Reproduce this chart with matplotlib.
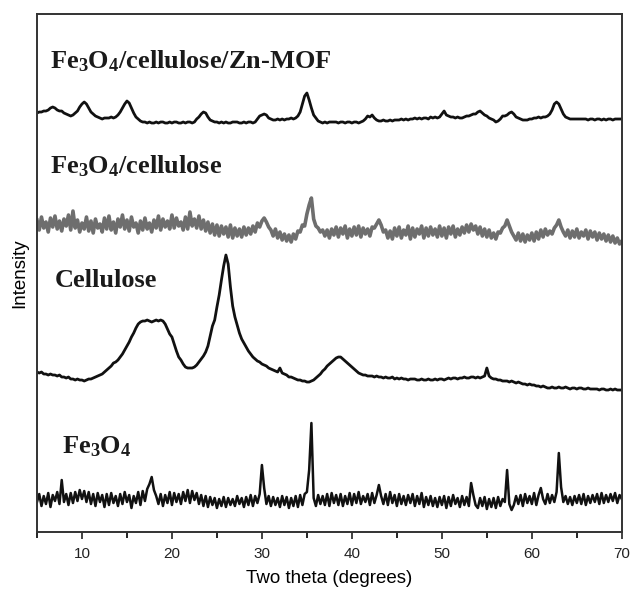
import numpy as np
import matplotlib
matplotlib.use("Agg")
import matplotlib.pyplot as plt

# XRD patterns, stacked (a.u.), sampled every 0.25 degree from 5 to 70
two_theta = 5 + 0.25 * np.arange(261)

zn_mof = [
    419, 420, 420, 421, 421, 422, 424, 425, 424, 422, 421, 421, 419, 418, 417, 416,
    417, 419, 421, 425, 428, 430, 428, 424, 420, 418, 416, 415, 414, 413, 414, 414,
    414, 415, 414, 415, 417, 420, 424, 428, 431, 429, 424, 419, 415, 413, 411, 410,
    410, 409, 410, 409, 409, 410, 409, 410, 410, 409, 409, 410, 409, 410, 410, 409,
    409, 410, 409, 410, 410, 409, 410, 413, 415, 418, 420, 419, 415, 412, 411, 410,
    410, 409, 410, 409, 410, 409, 409, 410, 410, 410, 409, 409, 410, 409, 410, 410,
    409, 410, 413, 416, 417, 418, 417, 414, 413, 412, 412, 413, 412, 413, 412, 413,
    413, 414, 413, 414, 416, 420, 428, 436, 439, 432, 424, 417, 414, 411, 410, 409,
    410, 409, 410, 410, 410, 410, 409, 410, 410, 409, 410, 410, 409, 410, 410, 409,
    410, 411, 413, 416, 415, 417, 414, 412, 411, 411, 412, 411, 411, 412, 411, 412,
    412, 412, 413, 412, 413, 412, 413, 413, 414, 413, 414, 413, 414, 414, 413, 415,
    414, 415, 414, 415, 418, 421, 417, 416, 415, 415, 414, 415, 414, 414, 415, 416,
    416, 417, 418, 418, 420, 421, 419, 417, 416, 414, 413, 412, 410, 411, 413, 416,
    416, 417, 419, 420, 418, 415, 414, 413, 412, 412, 412, 413, 413, 414, 414, 415,
    414, 415, 415, 416, 418, 422, 428, 430, 428, 423, 418, 415, 414, 413, 413, 413,
    413, 413, 413, 413, 413, 412, 413, 413, 412, 413, 413, 412, 413, 412, 413, 413,
    412, 413, 413, 413, 413,
]

fe3o4_cellulose = [
    312, 302, 315, 304, 310, 300, 314, 305, 316, 303, 311, 301, 313, 306, 317, 302,
    321, 304, 312, 300, 309, 303, 315, 301, 311, 299, 313, 304, 308, 300, 314, 303,
    316, 302, 310, 299, 313, 305, 317, 303, 312, 301, 315, 305, 309, 299, 311, 302,
    314, 303, 309, 300, 312, 304, 316, 302, 313, 305, 311, 303, 317, 304, 314, 306,
    310, 302, 315, 303, 320, 306, 313, 304, 316, 303, 312, 301, 310, 299, 308, 297,
    307, 296, 306, 298, 305, 295, 307, 294, 304, 296, 303, 295, 305, 297, 304, 298,
    306, 300, 309, 305, 311, 314, 310, 305, 302, 296, 303, 294, 300, 292, 298, 291,
    297, 290, 298, 293, 301, 300, 307, 306, 318, 327, 334, 313, 306, 304, 300, 302,
    296, 302, 294, 303, 297, 305, 295, 304, 298, 306, 294, 303, 296, 305, 297, 306,
    295, 304, 298, 303, 296, 305, 304, 308, 312, 307, 300, 302, 294, 301, 293, 304,
    296, 305, 294, 302, 297, 306, 293, 304, 295, 303, 298, 306, 294, 304, 296, 305,
    297, 303, 295, 306, 296, 304, 294, 305, 298, 306, 295, 303, 297, 305, 299, 307,
    300, 308, 302, 306, 298, 305, 296, 303, 295, 302, 294, 299, 293, 300, 299, 304,
    306, 312, 306, 300, 296, 292, 299, 291, 298, 290, 297, 292, 299, 291, 300, 293,
    302, 295, 303, 297, 301, 298, 304, 307, 312, 305, 300, 296, 302, 294, 301, 295,
    303, 294, 300, 296, 302, 293, 301, 295, 300, 292, 299, 293, 298, 291, 297, 290,
    296, 289, 294, 288, 291,
]

cellulose = [
    160, 159, 160, 158, 158, 157, 158, 157, 157, 156, 157, 155, 155, 154, 155, 153,
    153, 152, 153, 152, 152, 151, 152, 153, 153, 154, 155, 156, 157, 158, 160, 162,
    164, 166, 169, 170, 172, 175, 178, 182, 186, 190, 195, 199, 204, 208, 210, 211,
    211, 212, 211, 210, 211, 212, 211, 212, 211, 208, 203, 198, 195, 188, 181, 175,
    172, 168, 165, 164, 164, 164, 165, 167, 170, 173, 176, 180, 186, 196, 206, 212,
    225, 237, 252, 266, 277, 268, 245, 226, 215, 207, 199, 193, 189, 185, 181, 178,
    175, 173, 171, 170, 168, 167, 166, 164, 163, 162, 161, 160, 164, 159, 158, 157,
    155, 155, 154, 153, 152, 152, 151, 151, 150, 150, 151, 152, 154, 156, 158, 161,
    163, 166, 168, 170, 172, 174, 175, 175, 173, 171, 169, 167, 165, 163, 161, 159,
    158, 157, 157, 156, 156, 156, 155, 156, 155, 155, 154, 155, 154, 154, 155, 153,
    154, 153, 154, 153, 153, 152, 153, 153, 153, 152, 152, 153, 152, 152, 153, 152,
    152, 153, 152, 153, 153, 152, 153, 154, 153, 154, 154, 153, 154, 154, 155, 154,
    154, 155, 155, 154, 155, 154, 155, 156, 164, 156, 154, 153, 153, 152, 152, 151,
    151, 151, 150, 151, 150, 149, 150, 149, 148, 148, 147, 148, 147, 147, 146, 146,
    145, 146, 145, 144, 144, 145, 144, 144, 145, 144, 144, 145, 144, 143, 144, 144,
    143, 144, 144, 143, 143, 144, 143, 143, 143, 143, 142, 143, 143, 142, 142, 143,
    142, 143, 142, 142, 142,
]

fe3o4 = [
    30, 38, 26, 36, 28, 39, 25, 37, 31, 40, 28, 52, 30, 38, 27, 39,
    29, 40, 31, 42, 33, 41, 30, 40, 28, 38, 26, 39, 30, 37, 25, 38,
    27, 39, 29, 36, 26, 38, 28, 40, 30, 37, 24, 36, 29, 40, 27, 41,
    31, 43, 48, 55, 42, 36, 28, 38, 26, 37, 29, 40, 27, 39, 30, 38,
    28, 40, 31, 42, 29, 41, 32, 39, 28, 37, 26, 36, 25, 35, 27, 34,
    24, 33, 26, 35, 25, 34, 27, 33, 26, 36, 28, 34, 25, 35, 27, 37,
    26, 36, 29, 38, 67, 44, 28, 36, 26, 35, 27, 34, 25, 36, 27, 35,
    24, 34, 26, 36, 25, 37, 27, 38, 40, 62, 109, 34, 26, 37, 28, 36,
    27, 38, 26, 39, 29, 37, 27, 38, 26, 36, 28, 39, 27, 38, 29, 40,
    28, 36, 30, 38, 27, 39, 29, 37, 47, 36, 28, 38, 27, 40, 29, 37,
    26, 38, 28, 36, 27, 37, 29, 38, 26, 36, 28, 39, 25, 35, 27, 36,
    26, 34, 25, 35, 27, 36, 24, 35, 26, 37, 28, 34, 25, 36, 27, 35,
    26, 49, 37, 27, 24, 34, 26, 35, 23, 33, 25, 34, 24, 35, 26, 33,
    30, 62, 28, 22, 27, 36, 28, 37, 26, 38, 29, 36, 28, 39, 27, 37,
    44, 33, 28, 38, 29, 37, 30, 40, 79, 45, 30, 36, 28, 35, 27, 36,
    29, 37, 28, 38, 27, 36, 29, 37, 30, 38, 28, 39, 29, 37, 30, 38,
    31, 39, 29, 37, 33,
]

labels = ["$\\mathregular{Fe_3O_4}$/cellulose/Zn-MOF", "$\\mathregular{Fe_3O_4}$/cellulose",
          "Cellulose", "$\\mathregular{Fe_3O_4}$"]
label_x = [6.44, 6.44, 7.0, 7.8]
label_y = [464, 359, 245, 79]

fig = plt.figure(figsize=(6.3, 5.91), dpi=100)
ax = fig.add_axes([0.0587, 0.0998, 0.9283, 0.8765])

ax.plot(two_theta, zn_mof, color="#111111", lw=2.0)
ax.plot(two_theta, fe3o4_cellulose, color="#6e6e6e", lw=2.6)
ax.plot(two_theta, cellulose, color="#111111", lw=2.0)
ax.plot(two_theta, fe3o4, color="#111111", lw=1.8)

for t, x, y in zip(labels, label_x, label_y):
    ax.text(x, y, t, fontsize=19, fontweight="bold", family="Liberation Serif",
            color="#1a1a1a", va="baseline", ha="left")

ax.set_xlim(5, 70)
ax.set_ylim(0, 518)
ax.set_yticks([])
ax.set_xticks([10, 20, 30, 40, 50, 60, 70])
ax.set_xticks(np.arange(5, 70, 10), minor=True)
ax.tick_params(axis="x", which="major", direction="out", length=5, width=1.2,
               pad=6, labelsize=11, colors="#222222")
ax.tick_params(axis="x", which="minor", direction="out", length=4, width=1.2)
for s in ax.spines.values():
    s.set_color("#333333")
    s.set_linewidth(1.4)
for lab in ax.get_xticklabels():
    lab.set_family("Liberation Sans")

ax.set_xlabel("Two theta (degrees)", fontsize=13.5, family="Liberation Sans", labelpad=6)
ax.set_ylabel("Intensity", fontsize=13.5, family="Liberation Sans", labelpad=6)

fig.savefig("out.png", dpi=100)
